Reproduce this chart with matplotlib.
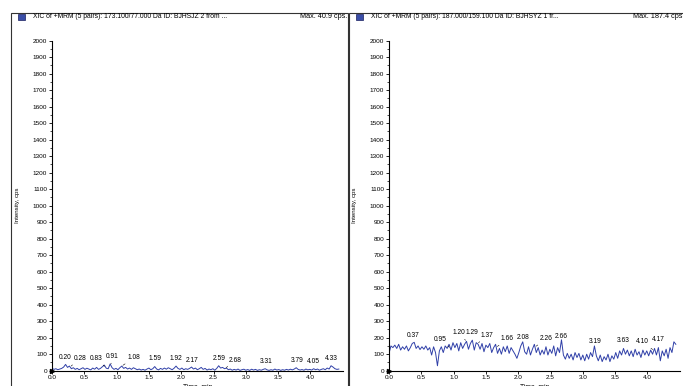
import numpy as np
import matplotlib
matplotlib.use("Agg")
import matplotlib.pyplot as plt
from matplotlib.patches import Rectangle

plt.rcParams['font.family'] = ['Liberation Sans', 'DejaVu Sans']

# traces, sampled every 0.03 min from 0.00 to 4.44
left_counts = [15, 8, 12, 6, 10, 14, 22, 38, 20, 28, 12, 18, 8, 14, 6, 12, 18, 8, 15, 10,
               5, 16, 9, 20, 8, 14, 24, 34, 15, 12, 40.9, 18, 8, 14, 6, 18, 28, 14, 20, 10,
               16, 8, 18, 12, 6, 10, 4, 8, 3, 10, 16, 6, 12, 25, 10, 5, 14, 8, 16, 9,
               18, 12, 6, 15, 28, 14, 8, 16, 6, 12, 8, 14, 22, 10, 16, 6, 12, 20, 8, 14,
               4, 10, 6, 12, 3, 14, 30, 16, 20, 12, 16, 6, 10, 3, 8, 4, 10, 2, 6, 9,
               3, 7, 2, 9, 4, 8, 2, 6, 3, 8, 12, 5, 2, 6, 3, 10, 4, 7, 2, 6,
               3, 8, 4, 9, 5, 10, 18, 8, 4, 7, 3, 10, 5, 8, 4, 12, 6, 10, 3, 8,
               12, 6, 16, 10, 30, 22, 12, 8, 10]
right_counts = [105, 150, 140, 155, 135, 160, 125, 145, 130, 150, 120, 140, 165, 172, 135, 150, 128, 145, 130, 150,
                125, 140, 95, 145, 110, 30, 120, 145, 110, 150, 135, 160, 125, 170, 140, 165, 120, 170, 135, 160,
                178, 130, 165, 185, 125, 170, 160, 130, 165, 115, 155, 140, 165, 110, 140, 160, 105, 135, 100, 145,
                115, 150, 105, 140, 120, 100, 75, 110, 150, 175, 115, 100, 145, 95, 130, 160, 110, 140, 95, 125,
                100, 145, 95, 130, 105, 150, 90, 140, 110, 187.4, 95, 70, 105, 75, 100, 65, 110, 80, 105, 65,
                95, 60, 100, 70, 110, 85, 150, 90, 60, 95, 55, 85, 65, 100, 55, 90, 70, 110, 75, 120,
                95, 135, 100, 125, 90, 120, 85, 130, 95, 115, 80, 125, 95, 120, 90, 125, 100, 135, 95, 140,
                60, 120, 90, 130, 75, 140, 110, 175, 160]

left_peaks = [0.20, 0.28, 0.83, 0.91, 1.08, 1.59, 1.92, 2.17, 2.59, 2.68, 3.31, 3.79, 4.05, 4.33]
right_peaks = [0.37, 0.95, 1.20, 1.29, 1.37, 1.66, 2.08, 2.26, 2.66, 3.19, 3.63, 4.10, 4.17]

left_title = "XIC of +MRM (5 pairs): 173.100/77.000 Da ID: BJHSJZ 2 from ..."
right_title = "XIC of +MRM (5 pairs): 187.000/159.100 Da ID: BJHSYZ 1 fr..."
left_max = "Max. 40.9 cps."
right_max = "Max. 187.4 cps"

# label shifts (points) for labels pushed aside from their peak
left_shift = {0.28: 7, 0.83: -7, 0.91: 1, 1.08: 9, 2.68: 7.5}
right_shift = {0.95: -7, 1.20: -5.6, 1.37: 6.5, 1.66: 8, 2.26: 8, 4.10: -8.4}

W, H = 683, 386
fig = plt.figure(figsize=(W / 100, H / 100), dpi=100)
line_col = '#3040a8'


def panel(x0, x1, ax_left, title, maxtxt, counts, peaks, shifts):
    # outer frame + header
    fig.add_artist(Rectangle((x0 / W, -0.05), (x1 - x0) / W, 1.05 - 13 / H,
                             transform=fig.transFigure, fill=False, lw=0.8, ec='#333333'))
    fig.add_artist(Rectangle(((x0 + 7) / W, 1 - 19.5 / H), 7 / W, 5 / H,
                             transform=fig.transFigure, fc='#3a4ea8', ec='#1a2060', lw=0.5))
    fig.text((x0 + 22) / W, 1 - 17 / H, title, fontsize=4.85, va='center', ha='left')
    fig.text(min(x1 - 1, 682) / W, 1 - 17 / H, maxtxt, fontsize=5.2, va='center', ha='right')

    ax = fig.add_axes([ax_left / W, (H - 370.7) / H, 4.5 * 64.6 / W, 330 / H])
    t = np.linspace(0, 4.44, len(counts))
    ax.plot(t, counts, color=line_col, lw=0.7)
    ax.set_xlim(0, 4.5)
    ax.set_ylim(0, 2000)
    for s in ['top', 'right']:
        ax.spines[s].set_visible(False)
    ax.spines['left'].set_linewidth(0.8)
    ax.spines['bottom'].set_linewidth(0.8)
    ax.set_yticks(np.arange(0, 2001, 100))
    ax.set_yticks(np.arange(50, 2000, 100), minor=True)
    ax.set_xticks(np.arange(0, 4.01, 0.5))
    ax.set_xticklabels(['%.1f' % v for v in np.arange(0, 4.01, 0.5)])
    ax.tick_params(axis='both', labelsize=4.6, length=2.2, width=0.6, pad=1.2)
    ax.tick_params(axis='y', which='minor', length=1.3, width=0.5)
    ax.set_ylabel('Intensity, cps', fontsize=4.4, labelpad=9)
    ax.set_xlabel('Time, min', fontsize=4.8, labelpad=2.0)
    ax.plot([0], [0], marker='>', color='black', ms=3, clip_on=False)
    for p in peaks:
        yv = np.interp(p, t, counts)
        dx = shifts.get(p, 0)
        if dx != 0:
            ax.annotate('%.2f' % p, xy=(p, yv), xytext=(dx, 3.5), textcoords='offset points',
                        ha='center', va='bottom', fontsize=4.8,
                        arrowprops=dict(arrowstyle='-', lw=0.4, color='black', shrinkA=0, shrinkB=1))
        else:
            ax.annotate('%.2f' % p, xy=(p, yv), xytext=(0, 3), textcoords='offset points',
                        ha='center', va='bottom', fontsize=4.8)
    return ax


panel(11, 348, 52, left_title, left_max, left_counts, left_peaks, left_shift)
panel(349, 686, 389, right_title, right_max, right_counts, right_peaks, right_shift)

fig.savefig('out.png', dpi=100)
